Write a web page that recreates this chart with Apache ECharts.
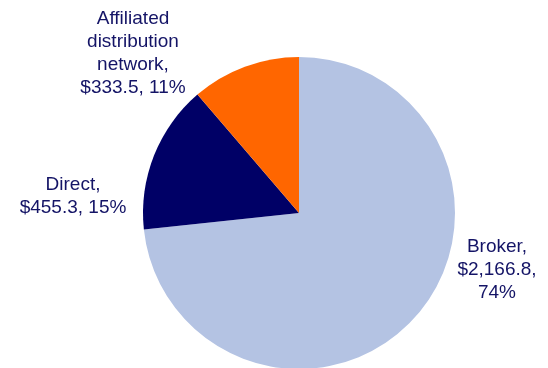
<!DOCTYPE html>
<html>
<head>
<meta charset="utf-8">
<style>
  html, body { margin: 0; padding: 0; background: #fff; }
  #chart { width: 548px; height: 368px; }
</style>
<script src="https://cdn.jsdelivr.net/npm/echarts@6/dist/echarts.min.js"></script>
</head>
<body>
<div id="chart"></div>
<script>
// Premium volume by distribution channel ($ millions)
const channels = ['Broker', 'Direct', 'Affiliated\ndistribution\nnetwork'];
const amounts = [2166.8, 455.3, 333.5];
const amountLabels = ['$2,166.8', '$455.3', '$333.5'];
const shareLabels = ['74%', '15%', '11%'];
const sliceColors = ['#B4C3E3', '#000066', '#FF6600'];

// label block centres for each slice
const labelSpots = [[497, 270], [73, 196], [133, 53]];

const labelText = [
  channels[0] + ',\n' + amountLabels[0] + ',\n' + shareLabels[0],
  channels[1] + ',\n' + amountLabels[1] + ', ' + shareLabels[1],
  channels[2] + ',\n' + amountLabels[2] + ', ' + shareLabels[2]
];

const chart = echarts.init(document.getElementById('chart'), null, { renderer: 'canvas' });
chart.setOption({
  animation: false,
  series: [{
    type: 'pie',
    center: [299, 213],
    radius: 156,
    startAngle: 90,
    clockwise: true,
    silent: true,
    avoidLabelOverlap: false,
    itemStyle: { borderWidth: 0 },
    label: {
      show: true,
      position: 'outside',
      alignTo: 'none',
      edgeDistance: 0,
      overflow: 'none',
      width: 200,
      color: '#141466',
      fontFamily: 'Liberation Sans, Arial, sans-serif',
      fontSize: 19,
      lineHeight: 23,
      align: 'center',
      formatter: p => labelText[p.dataIndex]
    },
    labelLine: { show: false },
    labelLayout: p => ({
      x: labelSpots[p.dataIndex][0],
      y: labelSpots[p.dataIndex][1],
      align: 'center',
      verticalAlign: 'middle'
    }),
    data: channels.map((c, i) => ({
      name: c,
      value: amounts[i],
      itemStyle: { color: sliceColors[i] }
    }))
  }]
});
</script>
</body>
</html>
